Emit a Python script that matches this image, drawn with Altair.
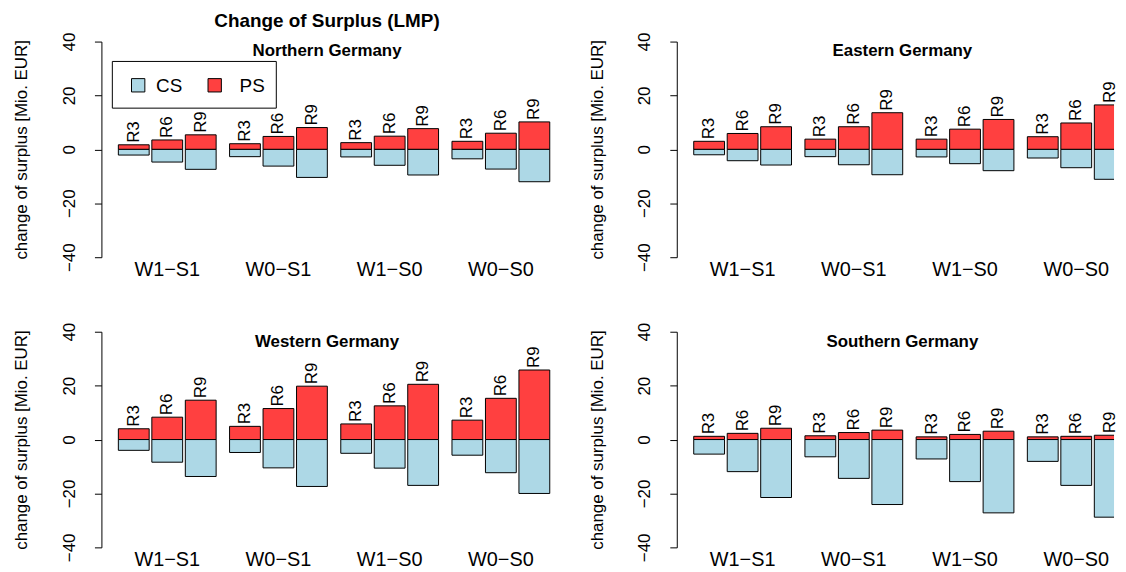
import altair as alt
import pandas as pd

groups = ["W1−S1", "W0−S1", "W1−S0", "W0−S0"]
rates = ["R3", "R6", "R9"]

north_ps = [1.7, 3.5, 5.4, 2.1, 4.8, 8.1, 2.5, 4.9, 7.7, 3.0, 6.0, 10.2]
north_cs = [-2.1, -4.7, -7.4, -2.7, -6.2, -10.4, -2.8, -5.9, -9.5, -3.5, -7.3, -12.0]
east_ps = [3.0, 5.9, 8.4, 3.8, 8.4, 13.6, 3.8, 7.5, 11.1, 4.7, 9.8, 16.5]
east_cs = [-2.0, -4.2, -5.8, -2.7, -5.7, -9.4, -2.8, -5.3, -7.9, -3.2, -6.8, -11.1]
west_ps = [4.0, 8.3, 14.6, 4.9, 11.5, 19.8, 5.8, 12.5, 20.5, 7.2, 15.3, 25.8]
west_cs = [-4.0, -8.4, -13.7, -4.8, -10.5, -17.4, -5.1, -10.6, -17.0, -5.8, -12.3, -20.0]
south_ps = [1.2, 2.3, 4.2, 1.4, 2.6, 3.5, 1.0, 1.9, 3.1, 1.0, 1.2, 1.6]
south_cs = [-5.4, -11.9, -21.5, -6.4, -14.4, -24.1, -7.2, -15.6, -27.2, -8.1, -17.0, -28.8]

RED = "#FF4040"
BLUE = "#ADD8E6"
H = 217
PX = 31.0  # pixels per bar width
FONT = "Liberation Sans"


def panel(name, ps, cs, W, first=False):
    xmax = W / PX
    rows = []
    for g, grp in enumerate(groups):
        for r, rate in enumerate(rates):
            i = g * 3 + r
            x0 = 0.55 + g * 3.61 + r * 1.087
            rows.append(dict(group=grp, rate=rate, x0=x0, x1=x0 + 1, xc=x0 + 0.5,
                             ps=ps[i], cs=cs[i], zero=0))
    df = pd.DataFrame(rows)
    xs = alt.Scale(domain=[0, xmax], nice=False, zero=False)
    ys = alt.Scale(domain=[-40, 40], nice=False)
    base = alt.Chart(df)
    ps_bar = base.mark_rect(fill=RED, stroke="black", strokeWidth=1, clip=True).encode(
        x=alt.X("x0:Q", scale=xs, axis=None), x2="x1",
        y=alt.Y("zero:Q", scale=ys, axis=alt.Axis(
            values=[-40, -20, 0, 20, 40], labelAngle=-90, labelAlign="center",
            labelBaseline="bottom", labelFontSize=17, labelColor="black",
            title="change of surplus [Mio. EUR]", titleFontSize=17,
            titleFontWeight="normal", titleColor="black", titlePadding=30,
            grid=False, tickSize=7, tickColor="black", domainColor="black",
            labelPadding=16)),
        y2="ps")
    cs_bar = base.mark_rect(fill=BLUE, stroke="black", strokeWidth=1, clip=True).encode(
        x=alt.X("x0:Q", scale=xs), x2="x1", y=alt.Y("zero:Q", scale=ys), y2="cs")
    rlab = base.mark_text(angle=270, align="left", baseline="middle", dx=2,
                          fontSize=17, font=FONT).encode(
        x=alt.X("xc:Q", scale=xs), y=alt.Y("ps:Q", scale=ys), text="rate")
    gdf = df[df.rate == "R6"]
    glab = alt.Chart(gdf).mark_text(fontSize=20, font=FONT,
                                    baseline="middle").encode(
        x=alt.X("xc:Q", scale=xs), y=alt.value(H + 13), text="group")
    tdf = pd.DataFrame({"t": [name]})
    tlab = alt.Chart(tdf).mark_text(fontSize=17, fontWeight="bold",
                                    font=FONT).encode(
        x=alt.value(227), y=alt.value(10), text="t")
    layers = [ps_bar, cs_bar, rlab, glab, tlab]
    if first:
        mdf = pd.DataFrame({"t": ["Change of Surplus (LMP)"]})
        layers.append(alt.Chart(mdf).mark_text(fontSize=19, fontWeight="bold",
                                               font=FONT).encode(
            x=alt.value(227), y=alt.value(-21), text="t"))
        box = pd.DataFrame({"a": [0]})
        layers.append(alt.Chart(box).mark_rect(fill="white", stroke="black",
                                               strokeWidth=1).encode(
            x=alt.value(11), x2=alt.value(176), y=alt.value(20), y2=alt.value(67)))
        leg = pd.DataFrame({"lab": ["CS", "PS"], "col": [BLUE, RED],
                            "sx": [37, 114], "tx": [55, 139]})
        layers.append(alt.Chart(leg).mark_square(size=180, stroke="black",
                                                 strokeWidth=1, opacity=1).encode(
            x=alt.X("sx:Q", scale=None), y=alt.value(44),
            fill=alt.Color("col:N", scale=None)))
        layers.append(alt.Chart(leg).mark_text(fontSize=19, align="left",
                                               font=FONT).encode(
            x=alt.X("tx:Q", scale=None), y=alt.value(45), text="lab"))
    return alt.layer(*layers).properties(width=W, height=H)


top = alt.hconcat(panel("Northern Germany", north_ps, north_cs, 455, first=True),
                  panel("Eastern Germany", east_ps, east_cs, 440), spacing=35)
bottom = alt.hconcat(panel("Western Germany", west_ps, west_cs, 455),
                     panel("Southern Germany", south_ps, south_cs, 440), spacing=35)
chart = alt.vconcat(top, bottom, spacing=42).properties(
    padding={"left": 5, "top": 2, "right": 0, "bottom": 0}
).configure_view(stroke=None).configure_axis(labelFont=FONT, titleFont=FONT)

chart.save("out.html", embed_options={"renderer": "svg", "actions": False})
